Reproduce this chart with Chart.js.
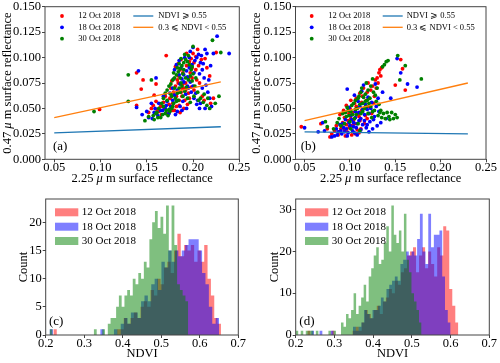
<!DOCTYPE html>
<html><head><meta charset="utf-8">
<script src="https://cdn.jsdelivr.net/npm/chart.js@4/dist/chart.umd.min.js"></script>
<style>
html,body{margin:0;padding:0;background:#fff;}
#wrap{position:relative;width:500px;height:363px;overflow:hidden;background:#fff;}
canvas{position:absolute;}
</style></head><body>
<div id="wrap">
<canvas id="ca" width="250" height="190" style="left:0;top:0"></canvas>
<canvas id="cb" width="250" height="190" style="left:250px;top:0"></canvas>
<canvas id="cc" width="250" height="173" style="left:0;top:190px"></canvas>
<canvas id="cd" width="250" height="173" style="left:250px;top:190px"></canvas>
</div>
<script>
// ---------- data ----------
const dates = ['12 Oct 2018', '18 Oct 2018', '30 Oct 2018'];
const lineLabels = ['NDVI \u2A7E 0.55', '0.3 \u2A7D NDVI < 0.55'];
const scatterXTicks = [0.05, 0.10, 0.15, 0.20, 0.25];
const scatterYTicks = [0, 0.025, 0.05, 0.075, 0.1, 0.125, 0.15];
const histXTicks = [0.2, 0.3, 0.4, 0.5, 0.6, 0.7];
const histCYTicks = [0, 5, 10, 15, 20];
const histDYTicks = [0, 10, 20, 30];

// panel (a): [2.25um reflectance, 0.47um reflectance]
const aRed = [[0.099,0.049],[0.139,0.085],[0.144,0.069],[0.146,0.078],[0.139,0.053],[0.160,0.074],[0.171,0.102],[0.225,0.105],[0.152,0.046],[0.155,0.050],
[0.175,0.060],[0.178,0.055],[0.180,0.048],[0.182,0.052],[0.185,0.058],[0.188,0.062],[0.190,0.070],[0.192,0.075],[0.195,0.080],[0.197,0.085],[0.199,0.090],[0.201,0.095],[0.203,0.101],[0.205,0.108],[0.200,0.104],[0.198,0.099],[0.186,0.088],[0.184,0.082],[0.183,0.078],[0.181,0.072],[0.179,0.066],[0.176,0.070],[0.170,0.062],[0.168,0.056],[0.165,0.052],[0.163,0.047],[0.172,0.045],[0.186,0.046],[0.190,0.050],[0.194,0.054],[0.196,0.060],[0.210,0.062],[0.212,0.058],[0.207,0.075],[0.215,0.090],[0.218,0.082],[0.209,0.098],[0.193,0.092],[0.189,0.085],[0.177,0.077],[0.160,0.057],[0.158,0.063],[0.187,0.066],[0.191,0.058],[0.201,0.068],[0.219,0.055],[0.222,0.060],[0.203,0.088],
[0.181,0.091],[0.184,0.094],[0.187,0.098],[0.193,0.104],[0.196,0.096],[0.189,0.074],[0.192,0.068],[0.195,0.065],[0.198,0.071],[0.185,0.053],[0.178,0.048],[0.174,0.054],[0.169,0.050],[0.166,0.044],[0.161,0.049],[0.157,0.053],[0.182,0.062],[0.199,0.080],[0.204,0.078],[0.206,0.092],[0.213,0.099],[0.188,0.070],[0.184,0.075]];
const aBlue = [[0.141,0.087],[0.139,0.051],[0.239,0.104],[0.226,0.121],[0.222,0.104],[0.215,0.104],[0.155,0.055],[0.160,0.080],[0.145,0.044],[0.152,0.041],
[0.170,0.050],[0.174,0.045],[0.178,0.058],[0.180,0.063],[0.183,0.068],[0.186,0.074],[0.188,0.079],[0.190,0.083],[0.193,0.087],[0.196,0.090],[0.199,0.093],[0.202,0.097],[0.204,0.100],[0.206,0.103],[0.208,0.095],[0.210,0.088],[0.212,0.080],[0.214,0.073],[0.216,0.066],[0.218,0.060],[0.220,0.052],[0.213,0.050],[0.208,0.055],[0.205,0.058],[0.203,0.065],[0.200,0.072],[0.197,0.076],[0.195,0.070],[0.192,0.064],[0.189,0.057],[0.186,0.052],[0.183,0.047],[0.181,0.044],[0.176,0.052],[0.172,0.057],[0.168,0.062],[0.165,0.048],[0.162,0.043],[0.158,0.046],[0.156,0.040],[0.180,0.088],[0.185,0.097],[0.191,0.100],[0.197,0.106],[0.200,0.110],[0.207,0.084],[0.211,0.094],[0.194,0.081],[0.201,0.085],[0.178,0.070],
[0.182,0.093],[0.187,0.090],[0.190,0.076],[0.194,0.072],[0.198,0.066],[0.201,0.060],[0.204,0.054],[0.207,0.050],[0.210,0.070],[0.217,0.078],[0.219,0.092],[0.213,0.108],[0.209,0.102],[0.196,0.100],[0.185,0.083],[0.179,0.079],[0.175,0.065],[0.171,0.053],[0.167,0.048],[0.163,0.055],[0.159,0.050],[0.150,0.047],[0.188,0.048],[0.193,0.050]];
const aGreen = [[0.093,0.047],[0.130,0.083],[0.130,0.057],[0.155,0.078],[0.221,0.117],[0.230,0.105],[0.228,0.062],[0.148,0.038],[0.152,0.042],[0.200,0.111],
[0.160,0.045],[0.163,0.050],[0.166,0.055],[0.168,0.060],[0.170,0.065],[0.172,0.068],[0.174,0.072],[0.176,0.074],[0.178,0.078],[0.180,0.080],[0.182,0.083],[0.184,0.086],[0.186,0.089],[0.188,0.092],[0.190,0.095],[0.192,0.098],[0.194,0.096],[0.196,0.093],[0.198,0.088],[0.200,0.084],[0.187,0.075],[0.185,0.070],[0.183,0.065],[0.181,0.060],[0.179,0.055],[0.177,0.050],[0.175,0.047],[0.173,0.043],[0.158,0.039],[0.162,0.041],[0.167,0.044],[0.171,0.048],[0.189,0.062],[0.191,0.067],[0.193,0.071],[0.195,0.078],[0.197,0.082],[0.199,0.077],[0.202,0.072],[0.205,0.066],[0.208,0.060],[0.211,0.056],[0.215,0.053],[0.218,0.050],[0.224,0.055],[0.186,0.080],[0.189,0.084],[0.180,0.070],[0.176,0.064],[0.184,0.058],
[0.179,0.085],[0.183,0.090],[0.185,0.094],[0.187,0.099],[0.191,0.103],[0.195,0.102],[0.190,0.088],[0.192,0.080],[0.188,0.072],[0.186,0.066],[0.182,0.057],[0.178,0.052],[0.174,0.049],[0.170,0.045],[0.165,0.041],[0.161,0.046],[0.157,0.043],[0.168,0.052],[0.172,0.058],[0.177,0.062],[0.194,0.060],[0.197,0.056],[0.201,0.062],[0.206,0.058],[0.212,0.064],[0.216,0.060],[0.203,0.080],[0.199,0.091]];
const aLineHigh = [[0.05,0.026],[0.23,0.032]];
const aLineMid = [[0.05,0.041],[0.23,0.076]];

// panel (b)
const bRed = [[0.0464,0.032],[0.068,0.035],[0.075,0.030],[0.078,0.022],[0.080,0.025],[0.083,0.028],[0.085,0.033],[0.087,0.024],[0.090,0.030],[0.092,0.036],[0.094,0.041],[0.095,0.023],[0.097,0.027],[0.099,0.045],[0.100,0.050],[0.102,0.033],[0.104,0.038],[0.105,0.055],[0.107,0.060],[0.108,0.029],[0.110,0.042],[0.111,0.065],[0.113,0.048],[0.115,0.070],[0.116,0.035],[0.118,0.058],[0.120,0.075],[0.121,0.052],[0.123,0.068],[0.125,0.072],[0.127,0.062],[0.128,0.078],[0.130,0.080],[0.132,0.085],[0.133,0.088],[0.135,0.090],[0.150,0.073],[0.156,0.098],[0.158,0.089],[0.161,0.068],[0.112,0.030],[0.106,0.025],[0.098,0.038],[0.093,0.048],[0.089,0.044],[0.119,0.040],[0.124,0.045],[0.101,0.058],[0.096,0.053],[0.114,0.062],
[0.088,0.027],[0.091,0.032],[0.094,0.029],[0.096,0.034],[0.099,0.031],[0.101,0.040],[0.103,0.046],[0.105,0.035],[0.107,0.052],[0.109,0.045],[0.111,0.038],[0.113,0.056],[0.115,0.050],[0.117,0.043],[0.119,0.066],[0.121,0.060],[0.126,0.055],[0.129,0.070],[0.131,0.075],[0.134,0.082],[0.110,0.026],[0.102,0.024]];
const bBlue = [[0.050,0.031],[0.065,0.027],[0.070,0.036],[0.072,0.028],[0.080,0.022],[0.083,0.023],[0.085,0.030],[0.087,0.027],[0.089,0.034],[0.091,0.025],[0.093,0.031],[0.095,0.039],[0.097,0.069],[0.098,0.026],[0.100,0.033],[0.101,0.043],[0.103,0.028],[0.104,0.036],[0.106,0.047],[0.107,0.031],[0.108,0.024],[0.110,0.038],[0.111,0.052],[0.112,0.029],[0.114,0.034],[0.115,0.073],[0.116,0.044],[0.118,0.031],[0.119,0.049],[0.121,0.027],[0.122,0.037],[0.124,0.056],[0.125,0.030],[0.127,0.042],[0.128,0.074],[0.130,0.033],[0.132,0.047],[0.134,0.036],[0.136,0.066],[0.140,0.040],[0.145,0.060],[0.152,0.099],[0.156,0.085],[0.1635,0.074],[0.174,0.071],[0.105,0.063],[0.109,0.057],[0.099,0.051],[0.113,0.067],[0.120,0.061],
[0.086,0.024],[0.090,0.028],[0.092,0.035],[0.094,0.027],[0.096,0.030],[0.099,0.036],[0.102,0.039],[0.104,0.032],[0.106,0.041],[0.108,0.035],[0.110,0.046],[0.112,0.040],[0.114,0.049],[0.116,0.038],[0.117,0.054],[0.119,0.034],[0.121,0.045],[0.123,0.050],[0.126,0.039],[0.129,0.052],[0.131,0.060],[0.105,0.026],[0.097,0.023]];
const bGreen = [[0.073,0.037],[0.075,0.032],[0.082,0.030],[0.086,0.036],[0.088,0.040],[0.090,0.033],[0.092,0.045],[0.094,0.035],[0.096,0.042],[0.098,0.048],[0.100,0.037],[0.102,0.053],[0.103,0.044],[0.105,0.040],[0.106,0.058],[0.108,0.050],[0.109,0.035],[0.110,0.062],[0.112,0.045],[0.113,0.070],[0.114,0.055],[0.116,0.050],[0.117,0.064],[0.118,0.075],[0.119,0.058],[0.120,0.045],[0.122,0.060],[0.123,0.052],[0.124,0.041],[0.126,0.066],[0.127,0.048],[0.129,0.057],[0.131,0.043],[0.133,0.046],[0.135,0.041],[0.137,0.045],[0.139,0.040],[0.141,0.046],[0.143,0.042],[0.146,0.046],[0.148,0.040],[0.150,0.044],[0.136,0.091],[0.138,0.093],[0.140,0.096],[0.142,0.097],[0.1527,0.102],[0.161,0.092],[0.155,0.078],[0.1787,0.079],[0.130,0.070],[0.125,0.079],[0.111,0.028],[0.101,0.030],
[0.095,0.046],[0.097,0.051],[0.099,0.043],[0.101,0.047],[0.104,0.055],[0.106,0.049],[0.107,0.044],[0.109,0.060],[0.111,0.054],[0.112,0.066],[0.114,0.047],[0.115,0.061],[0.117,0.057],[0.118,0.052],[0.120,0.068],[0.121,0.055],[0.123,0.072],[0.125,0.047],[0.128,0.063],[0.132,0.054],[0.134,0.048],[0.144,0.039],[0.152,0.041]];
const bLineHigh = [[0.05,0.027],[0.23,0.025]];
const bLineMid = [[0.05,0.038],[0.23,0.075]];

// histograms: [first edge, last edge] and 50 bin counts
const cRedRange = [0.22, 0.655];
const cRedCounts = [1,0,0,0,0,0,0,0,0,0,0,0,0,0,0,0,0,0,0,1, 1,3,2,3,4,3,5,6,5,8, 7,10,9,12,13,11,15,18,14,16, 15,16,13,15,13,16,10,7,3,2];
const cBlueRange = [0.21, 0.65];
const cBlueCounts = [1,0,0,0,0,0,0,0,0,0,0,0,0,0,0,1,0,0,0,1,0, 2,3,2,4,4,3,6,7,6, 9,10,8,13,12,15,13,15,14,15, 16,17,17,17,15,11,9,5,2,3];
const cGreenRange = [0.21, 0.57];
const cGreenCounts = [1,0,0,0,0,0,0,0,0,0,0,0,0,0,0,0,1,0,0,1,0, 2,3,3,5,7,5,7,8,7, 10,9,11,10,13,12,17,20,22,19, 21,18,23,15,23,16,9,8,7,6];
const dRedRange = [0.23, 0.62];
const dRedCounts = [1,0,0,0,0,0,0,0,1,0,0,0,0,0,0, 1,2,1,3,6, 5,4,6,7,5,8,9,11,10,13, 12,15,16,19,20,21,15,19,21,16, 20,17,14,21,19,26,25,11,7,3];
const dBlueRange = [0.24, 0.60];
const dBlueCounts = [1,0,0,1,0,0,0,1,0,0,0,0,0,0,0, 2,1,2,3,6, 5,4,6,6,7,9,8,11,12,13, 14,13,17,18,20,19,20,19,23,29, 20,17,29,21,24,24,25,14,6,3];
const dGreenRange = [0.20, 0.525];
const dGreenCounts = [1,0,1,0,1,1,1,0,1,0, 0,0,0,1,0,1,0,0,3,2, 5,4,6,10,5,7,9,12,8,14, 16,19,21,17,18,22,26,20,31,24, 22,25,20,29,18,15,10,8,6,3];

// ---------- helpers ----------
const FONT = "'Liberation Serif','Times New Roman','DejaVu Serif',serif";
const RED = '#ff0000', BLUE = '#0000ff', GREEN = '#008000';
const HRED = 'rgba(255,0,0,0.5)', HBLUE = 'rgba(0,0,255,0.5)', HGREEN = 'rgba(0,128,0,0.5)';
const FRAME = '#444';
const TICK = 12.5, TITLE = 12.5;

const toXY = arr => arr.map(p => ({x: p[0], y: p[1]}));
function histXY(range, counts) {
  const n = counts.length, w = (range[1] - range[0]) / n;
  const pts = counts.map((c, i) => ({x: range[0] + i * w, y: c}));
  pts.push({x: range[1], y: 0});
  return pts;
}

function drawParts(ctx, parts, x, y, rot, size) {
  ctx.save();
  ctx.translate(x, y);
  ctx.rotate(rot);
  let total = 0;
  parts.forEach(p => { ctx.font = (p[1] ? 'italic ' : '') + size + 'px ' + FONT; total += ctx.measureText(p[0]).width; });
  let cx = -total / 2;
  ctx.textAlign = 'left'; ctx.textBaseline = 'middle'; ctx.fillStyle = '#000';
  parts.forEach(p => { ctx.font = (p[1] ? 'italic ' : '') + size + 'px ' + FONT; ctx.fillText(p[0], cx, 0); cx += ctx.measureText(p[0]).width; });
  ctx.restore();
}

const decor = {
  id: 'decor',
  afterDraw(chart, args, o) {
    const ctx = chart.ctx, a = chart.chartArea;
    ctx.save();
    ctx.strokeStyle = FRAME; ctx.lineWidth = 1;
    ctx.strokeRect(a.left, a.top, a.right - a.left, a.bottom - a.top);
    drawParts(ctx, o.xTitle, (a.left + a.right) / 2, o.xTitleY, 0, o.titleSize);
    drawParts(ctx, o.yTitle, o.yTitleX, (a.top + a.bottom) / 2, -Math.PI / 2, o.titleSize);
    ctx.fillStyle = '#000'; ctx.textAlign = 'left'; ctx.textBaseline = 'middle';
    ctx.font = o.panelSize + 'px ' + FONT;
    ctx.fillText(o.panel, o.panelX, o.panelY);
    o.legend.forEach(it => {
      ctx.fillStyle = '#000';
      ctx.font = it.size + 'px ' + FONT;
      ctx.textAlign = 'left'; ctx.textBaseline = 'middle';
      ctx.fillText(it.label, it.tx, it.y);
      if (it.kind === 'dot') {
        ctx.fillStyle = it.color; ctx.beginPath(); ctx.arc(it.mx, it.y, 1.9, 0, Math.PI * 2); ctx.fill();
      } else if (it.kind === 'line') {
        ctx.strokeStyle = it.color; ctx.lineWidth = 1.3; ctx.beginPath(); ctx.moveTo(it.mx, it.y); ctx.lineTo(it.mx2, it.y); ctx.stroke();
      } else {
        ctx.fillStyle = it.color; ctx.fillRect(it.mx, it.y - 4, it.mx2 - it.mx, 8);
      }
    });
    ctx.restore();
  }
};

function axisCommon(tickArr, fmt, size, pad) {
  return {
    type: 'linear',
    afterBuildTicks: s => { s.ticks = tickArr.map(v => ({value: v})); },
    ticks: {callback: v => fmt(v), font: {family: FONT, size: size}, color: '#000', padding: pad, maxRotation: 0, autoSkip: false},
    grid: {drawOnChartArea: false, tickLength: 3, color: FRAME, lineWidth: 1},
    border: {display: false}
  };
}

function baseOptions(rect, W, H, xAxis, yAxis, decorOpts) {
  xAxis.afterFit = s => { s.height = H - rect.bottom; s.paddingLeft = 0; s.paddingRight = 0; };
  yAxis.afterFit = s => { s.width = rect.left; s.paddingTop = 0; s.paddingBottom = 0; };
  return {
    responsive: false, animation: false, events: [],
    layout: {padding: {left: 0, top: rect.top, right: W - rect.right, bottom: 0}},
    plugins: {legend: {display: false}, tooltip: {enabled: false}, decor: decorOpts},
    scales: {x: xAxis, y: yAxis}
  };
}

function scatterChart(id, red, blue, green, lineHigh, lineMid, rect, decorOpts) {
  const x = axisCommon(scatterXTicks, v => v.toFixed(2), TICK, -2); x.min = 0.04; x.max = 0.25;
  const y = axisCommon(scatterYTicks, v => v.toFixed(3), TICK, 1); y.min = 0; y.max = 0.15;
  const pt = (data, color, order, label) => ({label, data: toXY(data), backgroundColor: color, borderWidth: 0, pointRadius: 1.9, pointHoverRadius: 1.9, order});
  new Chart(document.getElementById(id), {
    type: 'scatter',
    data: {datasets: [
      pt(red, RED, 4, dates[0]),
      pt(blue, BLUE, 3, dates[1]),
      pt(green, GREEN, 2, dates[2]),
      {type: 'line', label: lineLabels[0], data: toXY(lineHigh), borderColor: '#1f77b4', borderWidth: 1.3, pointRadius: 0, fill: false, order: 1},
      {type: 'line', label: lineLabels[1], data: toXY(lineMid), borderColor: '#ff7f0e', borderWidth: 1.3, pointRadius: 0, fill: false, order: 1}
    ]},
    options: baseOptions(rect, 250, 190, x, y, decorOpts),
    plugins: [decor]
  });
}

function histChart(id, sets, yTicks, rect, decorOpts) {
  const x = axisCommon(histXTicks, v => v.toFixed(1), TICK, -2); x.min = 0.2; x.max = 0.7;
  const y = axisCommon(yTicks, v => String(v), TICK, 1); y.min = 0;
  y.max = Math.max(...sets.flatMap(s => s.counts)) * 1.05;
  const cols = [HRED, HBLUE, HGREEN];
  new Chart(document.getElementById(id), {
    type: 'line',
    data: {datasets: sets.map((s, i) => ({
      label: dates[i], data: histXY(s.range, s.counts), stepped: true, fill: 'origin',
      backgroundColor: cols[i], borderColor: 'rgba(0,0,0,0)', borderWidth: 0, pointRadius: 0, order: 3 - i
    }))},
    options: baseOptions(rect, 250, 173, x, y, decorOpts),
    plugins: [decor]
  });
}

const xT = [['2.25 ', false], ['\u03BC', true], [' m surface reflectance', false]];
const yT = [['0.47 ', false], ['\u03BC', true], [' m surface reflectance', false]];

function scatterLegend(mx, tx, lx1, lx2, ltx) {
  const rows = [16, 27.3, 38.7];
  const cols = [RED, BLUE, GREEN];
  const items = dates.map((d, i) => ({kind: 'dot', color: cols[i], label: d, mx: mx, tx: tx, y: rows[i], size: 8.5}));
  items.push({kind: 'line', color: '#1f77b4', label: lineLabels[0], mx: lx1, mx2: lx2, tx: ltx, y: rows[0], size: 8.5});
  items.push({kind: 'line', color: '#ff7f0e', label: lineLabels[1], mx: lx1, mx2: lx2, tx: ltx, y: rows[1], size: 8.5});
  return items;
}
function histLegend() {
  const rows = [22.3, 36.7, 51];
  const cols = [HRED, HBLUE, HGREEN];
  return dates.map((d, i) => ({kind: 'patch', color: cols[i], label: d, mx: 55, mx2: 78.3, tx: 81.7, y: rows[i], size: 11}));
}

scatterChart('ca', aRed, aBlue, aGreen, aLineHigh, aLineMid,
  {left: 45, right: 239.3, top: 6.7, bottom: 159.3},
  {xTitle: xT, yTitle: yT, xTitleY: 179, yTitleX: 8, titleSize: TITLE, panel: '(a)', panelX: 53, panelY: 147, panelSize: 13,
   legend: scatterLegend(62, 78.3, 133.3, 153.3, 158.3)});
scatterChart('cb', bRed, bBlue, bGreen, bLineHigh, bLineMid,
  {left: 45.5, right: 236, top: 6.7, bottom: 159.3},
  {xTitle: xT, yTitle: yT, xTitleY: 179, yTitleX: 6.7, titleSize: TITLE, panel: '(b)', panelX: 50.7, panelY: 147, panelSize: 13,
   legend: scatterLegend(61.7, 78.3, 132.7, 152.7, 156.7)});
histChart('cc', [{range: cRedRange, counts: cRedCounts}, {range: cBlueRange, counts: cBlueCounts}, {range: cGreenRange, counts: cGreenCounts}],
  histCYTicks, {left: 45.7, right: 238.3, top: 9, bottom: 145},
  {xTitle: [['NDVI', false]], yTitle: [['Count', false]], xTitleY: 163.5, yTitleX: 24, titleSize: TITLE, panel: '(c)', panelX: 49, panelY: 131.7, panelSize: 13,
   legend: histLegend()});
histChart('cd', [{range: dRedRange, counts: dRedCounts}, {range: dBlueRange, counts: dBlueCounts}, {range: dGreenRange, counts: dGreenCounts}],
  histDYTicks, {left: 45.7, right: 239.3, top: 9, bottom: 145},
  {xTitle: [['NDVI', false]], yTitle: [['Count', false]], xTitleY: 163.5, yTitleX: 25, titleSize: TITLE, panel: '(d)', panelX: 49.3, panelY: 131.7, panelSize: 13,
   legend: histLegend()});
</script>
</body></html>
